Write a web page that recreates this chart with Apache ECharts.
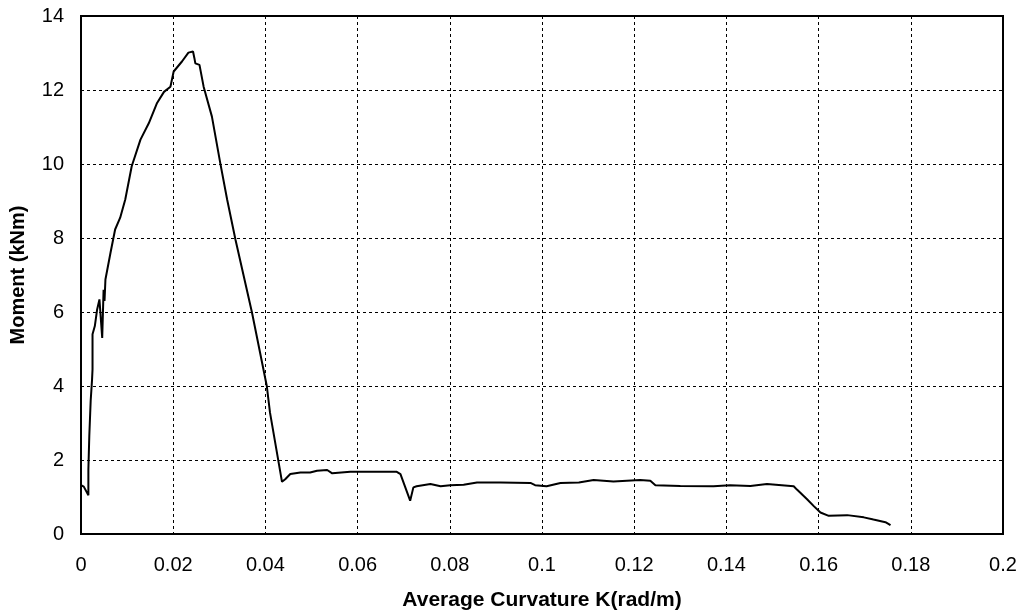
<!DOCTYPE html>
<html>
<head>
<meta charset="utf-8">
<script src="https://cdn.jsdelivr.net/npm/echarts@6/dist/echarts.min.js"></script>
<style>
  html, body { margin: 0; padding: 0; background: #fff; }
  #chart { width: 1027px; height: 616px; }
</style>
</head>
<body>
<div id="chart"></div>
<script>
// curvature (rad/m) and moment (kNm)
const curvature = [
  0, 0.0006, 0.0016, 0.0016, 0.0018, 0.0021, 0.0024, 0.0025, 0.0025, 0.0030, 0.0035,
  0.0040, 0.0046, 0.0049, 0.0051, 0.0053, 0.0064, 0.0074, 0.0085, 0.0096,
  0.0110, 0.0129, 0.0147, 0.0165, 0.0180, 0.0194, 0.0201, 0.0219, 0.0233, 0.0243,
  0.0246, 0.0248, 0.0257, 0.0266, 0.0284, 0.0302, 0.0317, 0.0335, 0.0371,
  0.0403, 0.0410, 0.0436, 0.0443, 0.0454, 0.0476, 0.0497, 0.0512, 0.0534,
  0.0545, 0.0584, 0.0640, 0.0685, 0.0693, 0.0714, 0.0721, 0.0728, 0.0758,
  0.0780, 0.0801, 0.0830, 0.0859, 0.0910, 0.0975, 0.0985, 0.1010, 0.1040,
  0.1080, 0.1112, 0.1155, 0.1213, 0.1235, 0.1246, 0.1300, 0.1372, 0.1408,
  0.1452, 0.1488, 0.1546, 0.1553, 0.1575, 0.1589, 0.1604, 0.1622, 0.1662,
  0.1698, 0.1719, 0.1745, 0.1756
];
const moment = [
  1.32, 1.28, 1.05, 1.75, 2.65, 3.60, 4.18, 4.45, 5.40, 5.62, 6.07,
  6.34, 5.30, 6.60, 6.30, 6.88, 7.60, 8.23, 8.55, 9.04,
  9.94, 10.66, 11.10, 11.65, 11.95, 12.09, 12.50, 12.77, 13.01, 13.04,
  12.86, 12.72, 12.68, 12.09, 11.28, 10.03, 9.04, 7.96, 5.98,
  4.00, 3.28, 1.41, 1.48, 1.62, 1.66, 1.66, 1.71, 1.73,
  1.64, 1.68, 1.68, 1.68, 1.62, 0.90, 1.26, 1.29, 1.35,
  1.29, 1.32, 1.33, 1.39, 1.39, 1.38, 1.32, 1.29, 1.38,
  1.39, 1.46, 1.42, 1.46, 1.44, 1.32, 1.30, 1.29, 1.32,
  1.30, 1.35, 1.29, 1.20, 0.94, 0.76, 0.58, 0.49, 0.51,
  0.45, 0.39, 0.32, 0.24
];

const chart = echarts.init(document.getElementById('chart'));
const font = 'Liberation Sans, Arial, sans-serif';

chart.setOption({
  animation: false,
  grid: {
    left: 81, right: 24, top: 16, bottom: 81,
    show: true, borderColor: '#000', borderWidth: 2
  },
  xAxis: {
    type: 'value',
    min: 0, max: 0.2, interval: 0.02,
    name: 'Average Curvature K(rad/m)',
    nameLocation: 'middle',
    nameGap: 56,
    nameTextStyle: { fontFamily: font, fontSize: 21, fontWeight: 'bold', color: '#000' },
    axisLine: { show: true, lineStyle: { color: '#000', width: 2 } },
    axisTick: { show: false },
    axisLabel: {
      fontFamily: font, fontSize: 20, color: '#000', margin: 21,
      formatter: v => String(parseFloat(v.toFixed(2)))
    },
    splitLine: { show: true, lineStyle: { color: '#000', type: [3, 3], width: 1 } }
  },
  yAxis: {
    type: 'value',
    min: 0, max: 14, interval: 2,
    name: 'Moment (kNm)',
    nameLocation: 'middle',
    nameGap: 53,
    nameTextStyle: { fontFamily: font, fontSize: 20, fontWeight: 'bold', color: '#000' },
    axisLine: { show: true, lineStyle: { color: '#000', width: 2 } },
    axisTick: { show: false },
    axisLabel: { fontFamily: font, fontSize: 20, color: '#000', margin: 17 },
    splitLine: { show: true, lineStyle: { color: '#000', type: [3, 3], width: 1 } }
  },
  series: [{
    type: 'line',
    data: curvature.map((k, i) => [k, moment[i]]),
    showSymbol: false,
    lineStyle: { color: '#000', width: 2 }
  }]
});
</script>
</body>
</html>
